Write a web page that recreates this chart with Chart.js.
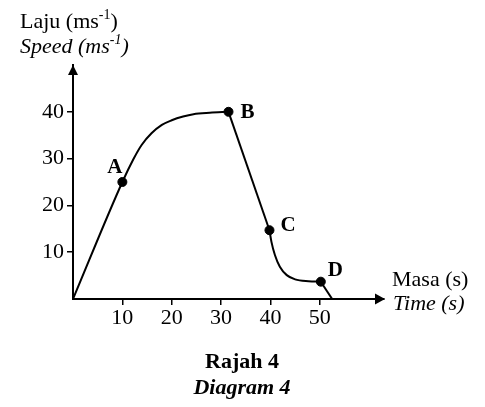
<!DOCTYPE html>
<html lang="ms">
<head>
  <meta charset="UTF-8">
  <title>Rajah 4</title>
  <script src="https://cdn.jsdelivr.net/npm/chart.js"></script>
  <style>
    body { margin: 0; background: #fff; }
    canvas { display: block; }
  </style>
</head>
<body>
  <canvas id="speedChart" width="485" height="407"></canvas>

  <script>
    // values
    const riseTime = [0, 10, 12.2, 13.9, 15.9, 18, 20, 22.3, 24.4, 27.7, 31.5];
    const riseSpeed = [0, 25, 29.8, 32.9, 35.4, 37.2, 38.2, 39, 39.5, 39.8, 40];
    const fallTime = [31.5, 39.8];
    const fallSpeed = [40, 14.7];
    const settleTime = [39.8, 40.2, 40.9, 41.9, 43.3, 45, 47.7, 50.2];
    const settleSpeed = [14.7, 12.2, 9.4, 6.9, 5.1, 4.2, 3.8, 3.7];
    const stopTime = [50.2, 52.5];
    const stopSpeed = [3.7, 0];
    const pointNames = ['A', 'B', 'C', 'D'];
    const pointTime = [10, 31.5, 39.8, 50.2];
    const pointSpeed = [25, 40, 14.7, 3.7];
    const timeTicks = [10, 20, 30, 40, 50];
    const speedTicks = [10, 20, 30, 40];

    const serif = 'Liberation Serif, Times New Roman, serif';
    const toXY = (xs, ys) => xs.map((x, i) => ({ x: x, y: ys[i] }));

    function curve(xs, ys, smooth) {
      return {
        data: toXY(xs, ys),
        showLine: true,
        borderColor: '#000',
        borderWidth: 2,
        pointRadius: 0,
        tension: 0,
        cubicInterpolationMode: smooth ? 'monotone' : 'default'
      };
    }

    // write a run of text pieces, some raised as superscript
    function richText(ctx, parts, x, y) {
      parts.forEach(p => {
        ctx.font = p.font;
        ctx.fillText(p.t, x, p.sup ? y - 9 : y);
        x += ctx.measureText(p.t).width;
      });
    }

    const decorations = {
      id: 'decorations',
      afterDraw(chart) {
        const ctx = chart.ctx;
        const xs = chart.scales.x, ys = chart.scales.y;
        const x0 = xs.getPixelForValue(0), y0 = ys.getPixelForValue(0);
        ctx.save();
        ctx.fillStyle = '#000';

        // arrow heads
        ctx.beginPath();
        ctx.moveTo(x0, 65);
        ctx.lineTo(x0 - 5, 75);
        ctx.lineTo(x0 + 5, 75);
        ctx.closePath();
        ctx.fill();
        ctx.beginPath();
        ctx.moveTo(385, y0);
        ctx.lineTo(375, y0 - 5.5);
        ctx.lineTo(375, y0 + 5.5);
        ctx.closePath();
        ctx.fill();

        // axis titles
        ctx.textBaseline = 'alphabetic';
        ctx.textAlign = 'left';
        const up = '22px ' + serif, it = 'italic 22px ' + serif;
        richText(ctx, [{ t: 'Laju (ms', font: up }, { t: '-1', font: '14px ' + serif, sup: true }, { t: ')', font: up }], 20, 28);
        richText(ctx, [{ t: 'Speed (ms', font: it }, { t: '-1', font: 'italic 14px ' + serif, sup: true }, { t: ')', font: it }], 20, 53);
        richText(ctx, [{ t: 'Masa (s)', font: up }], 392, 286);
        richText(ctx, [{ t: 'Time (s)', font: it }], 393, 310);

        // point letters
        const offsets = [[-15, -9], [12, 6], [11, 1], [7, -6]];
        ctx.font = 'bold 21px ' + serif;
        pointNames.forEach((n, i) => {
          const px = xs.getPixelForValue(pointTime[i]);
          const py = ys.getPixelForValue(pointSpeed[i]);
          ctx.fillText(n, px + offsets[i][0], py + offsets[i][1]);
        });

        // caption
        ctx.textAlign = 'center';
        ctx.font = 'bold 22px ' + serif;
        ctx.fillText('Rajah 4', 242, 368);
        ctx.font = 'bold italic 22px ' + serif;
        ctx.fillText('Diagram 4', 242, 394);
        ctx.restore();
      }
    };

    const axisBase = {
      type: 'linear',
      border: { display: true, color: '#000', width: 2 },
      grid: { display: true, drawOnChartArea: false, drawTicks: true, tickLength: 6, color: '#000', lineWidth: 1.5 },
      ticks: { color: '#000', font: { family: serif, size: 22 } }
    };

    new Chart(document.getElementById('speedChart'), {
      type: 'scatter',
      data: {
        datasets: [
          curve(riseTime, riseSpeed, true),
          curve(fallTime, fallSpeed, false),
          curve(settleTime, settleSpeed, true),
          curve(stopTime, stopSpeed, false),
          {
            data: toXY(pointTime, pointSpeed),
            showLine: false,
            pointRadius: 4.5,
            pointBackgroundColor: '#000',
            pointBorderColor: '#000'
          }
        ]
      },
      options: {
        responsive: false,
        animation: false,
        devicePixelRatio: 1,
        layout: { padding: { left: 23, right: 101, top: 65, bottom: 68 } },
        plugins: { legend: { display: false }, tooltip: { enabled: false } },
        scales: {
          x: Object.assign({}, axisBase, {
            min: 0, max: 63,
            ticks: Object.assign({}, axisBase.ticks, { padding: 0 }),
            afterBuildTicks: s => { s.ticks = timeTicks.map(v => ({ value: v })); },
            afterFit: s => { s.height = 40; }
          }),
          y: Object.assign({}, axisBase, {
            min: 0, max: 50,
            ticks: Object.assign({}, axisBase.ticks, { padding: 3 }),
            afterBuildTicks: s => { s.ticks = speedTicks.map(v => ({ value: v })); },
            afterFit: s => { s.width = 50; }
          })
        }
      },
      plugins: [decorations]
    });
  </script>
</body>
</html>
